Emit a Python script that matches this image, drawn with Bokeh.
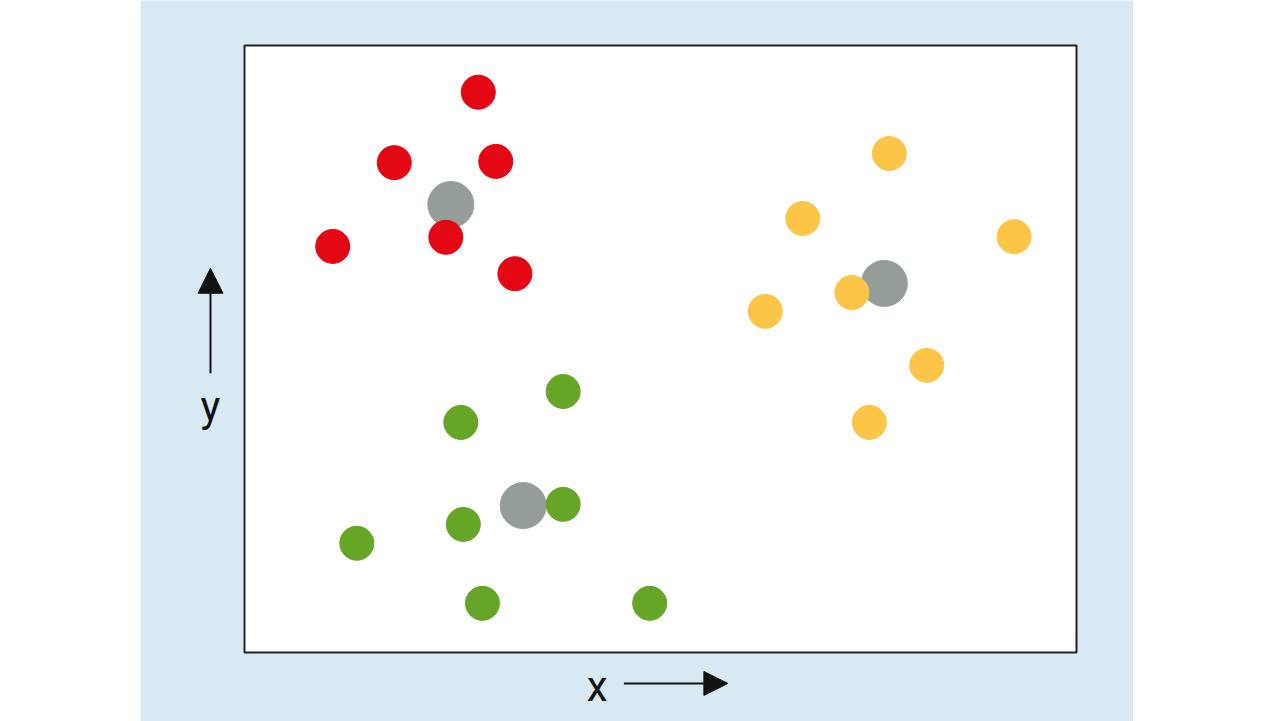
from bokeh.plotting import figure
from bokeh.models import Range1d, Arrow, NormalHead, Label, Spacer
from bokeh.layouts import row
from bokeh.embed import file_html
from bokeh.resources import INLINE

# Cluster data (arbitrary units, 0..10 on each axis)
red_x = [2.81, 1.80, 3.02, 1.06, 2.42, 3.25]
red_y = [9.23, 8.07, 8.09, 6.69, 6.84, 6.24]
yellow_x = [7.75, 6.71, 9.25, 7.30, 6.26, 8.20, 7.51]
yellow_y = [8.22, 7.15, 6.85, 5.93, 5.62, 4.73, 3.79]
green_x = [3.83, 2.60, 3.83, 2.63, 1.35, 2.86, 4.87]
green_y = [4.30, 3.79, 2.44, 2.11, 1.80, 0.81, 0.81]
centroid_x = [2.48, 7.69, 3.35]
centroid_y = [7.38, 6.08, 2.42]

BG = "#d8e9f4"
FONT = "'Liberation Sans Narrow', 'Roboto', sans-serif"

p = figure(width=993, height=721, output_backend="svg", toolbar_location=None,
           x_range=Range1d(-1.25, 10.685), y_range=Range1d(-1.137, 10.741),
           min_border=0)
p.xaxis.visible = False
p.yaxis.visible = False
p.xgrid.visible = False
p.ygrid.visible = False
p.border_fill_color = BG
p.background_fill_color = BG
p.outline_line_color = None

# plotting box
p.quad(left=[0], right=[10], bottom=[0], top=[10], fill_color="white",
       line_color="#222222", line_width=2)

p.scatter(centroid_x, centroid_y, size=46, color="#959d99", line_color="#959d99")
p.scatter(red_x, red_y, size=34, color="#e30613", line_color="#e30613")
p.scatter(yellow_x, yellow_y, size=34, color="#fcc547", line_color="#fcc547")
p.scatter(green_x, green_y, size=34, color="#66a626", line_color="#66a626")

p.add_layout(Arrow(end=NormalHead(size=25, fill_color="#111111", line_color="#111111"),
                   x_start=-0.409, y_start=4.60, x_end=-0.409, y_end=6.33,
                   line_width=2, line_color="#111111"))
p.add_layout(Arrow(end=NormalHead(size=24, fill_color="#111111", line_color="#111111"),
                   x_start=4.56, y_start=-0.51, x_end=5.81, y_end=-0.51,
                   line_width=2, line_color="#111111"))
p.add_layout(Label(x=-0.409, y=4.05, text="y", text_align="center", text_baseline="alphabetic",
                   text_font=FONT, text_font_size="42px", text_color="#111111"))
p.add_layout(Label(x=4.24, y=-0.56, text="x", text_align="center", text_baseline="alphabetic",
                   text_font=FONT, text_font_size="42px", text_color="#111111"))

layout = row(Spacer(width=140, height=721), p)
open("out.html", "w").write(file_html(layout, INLINE))
